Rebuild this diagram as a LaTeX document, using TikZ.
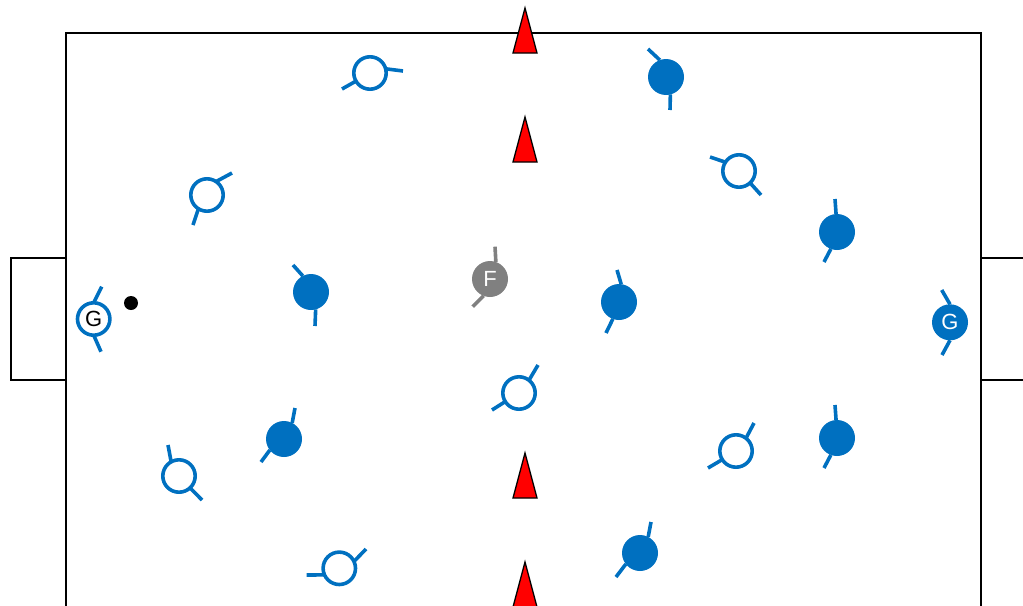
\documentclass[tikz,border=0pt]{standalone}
\usepackage{fontspec}
\setmainfont{Liberation Sans}
\definecolor{teamblue}{HTML}{0070C0}
\definecolor{coachgray}{HTML}{808080}
\tikzset{
    pitchline/.style={black, line width=2.5*0.02cm},
    cone/.style={draw=black, fill=red, line width=1.3*0.02cm},
    arm/.style={teamblue, line width=3.6*0.02cm},
    emptyplayer/.style={circle, draw=teamblue, fill=white, line width=3.6*0.02cm, minimum size=32.4*0.02cm, inner sep=0pt, outer sep=0pt},
    fullplayer/.style={circle, fill=teamblue, minimum size=36*0.02cm, inner sep=0pt, outer sep=0pt},
    letter/.style={font=\fontsize{12.5pt}{12.5pt}\selectfont}
}
\begin{document}
\begin{tikzpicture}[x=0.02cm, y=0.02cm]

    \clip (0,0) rectangle (1023,-605);

    % Pitch and both goals
    \draw[pitchline] (66,-33) rectangle (981,-640);
    \draw[pitchline] (66,-258) -- (11,-258) -- (11,-380) -- (66,-380);
    \draw[pitchline] (981,-258) -- (1040,-258);
    \draw[pitchline] (981,-380) -- (1040,-380);

    % Cones on the middle line
    \draw[cone] (513,-53) -- (525,-8) -- (537,-53) -- cycle;
    \draw[cone] (513,-162) -- (525,-117) -- (537,-162) -- cycle;
    \draw[cone] (513,-498) -- (525,-453) -- (537,-498) -- cycle;
    \draw[cone] (513,-607) -- (525,-562) -- (537,-607) -- cycle;

    % Ball
    \fill (131,-303) circle (7);

    % Goalkeepers
    \node[emptyplayer, letter, text=black] (keeperA) at (93.7,-319) {G};
    \draw[arm] (keeperA.90) -- (101.7,-286.7);
    \draw[arm] (keeperA.270) -- (101,-351.7);
    \node[fullplayer, letter, text=white] (keeperB) at (950,-322.3) {G};
    \draw[arm] (keeperB.90) -- (941.7,-290);
    \draw[arm] (keeperB.270) -- (942,-355);

    % Neutral player
    \node[fullplayer, letter, fill=coachgray, text=white] (neutral) at (490,-279) {F};
    \draw[arm, coachgray] (neutral.71) -- (495,-246.7);
    \draw[arm, coachgray] (neutral.249) -- (472.7,-306.7);

    % Empty players
    \node[emptyplayer] (emptyA) at (370,-73) {};
    \draw[arm] (emptyA.210) -- (342,-89);
    \draw[arm] (emptyA.15) -- (403,-71);
    \node[emptyplayer] (emptyB) at (739,-171) {};
    \draw[arm] (emptyB.147) -- (710,-157);
    \draw[arm] (emptyB.313) -- (761,-195);
    \node[emptyplayer] (emptyC) at (207,-195) {};
    \draw[arm] (emptyC.56) -- (232,-173);
    \draw[arm] (emptyC.238) -- (193,-225);
    \node[emptyplayer] (emptyD) at (519,-393) {};
    \draw[arm] (emptyD.52) -- (538,-365);
    \draw[arm] (emptyD.212) -- (492,-410);
    \node[emptyplayer] (emptyE) at (736,-451) {};
    \draw[arm] (emptyE.52) -- (754,-423);
    \draw[arm] (emptyE.212) -- (708,-468);
    \node[emptyplayer] (emptyF) at (179,-476) {};
    \draw[arm] (emptyF.119) -- (168,-445);
    \draw[arm] (emptyF.313) -- (202,-500);
    \node[emptyplayer] (emptyG) at (339.3,-568.3) {};
    \draw[arm] (emptyG.25) -- (366,-549);
    \draw[arm] (emptyG.204) -- (306.7,-575);

    % Full players
    \node[fullplayer] (fullA) at (666,-77) {};
    \draw[arm] (fullA.110) -- (648,-49);
    \draw[arm] (fullA.284) -- (670,-110);
    \node[fullplayer] (fullB) at (837,-232) {};
    \draw[arm] (fullB.93) -- (835,-199);
    \draw[arm] (fullB.250) -- (824,-262);
    \node[fullplayer] (fullC) at (311,-292) {};
    \draw[arm] (fullC.117) -- (293,-265);
    \draw[arm] (fullC.285) -- (315,-326);
    \node[fullplayer] (fullD) at (619,-302) {};
    \draw[arm] (fullD.83) -- (617,-270);
    \draw[arm] (fullD.250) -- (606,-333);
    \node[fullplayer] (fullE) at (284,-439) {};
    \draw[arm] (fullE.63) -- (295,-408);
    \draw[arm] (fullE.218) -- (261,-462);
    \node[fullplayer] (fullF) at (837,-438) {};
    \draw[arm] (fullF.93) -- (835,-405);
    \draw[arm] (fullF.250) -- (824,-468);
    \node[fullplayer] (fullG) at (640,-553) {};
    \draw[arm] (fullG.63) -- (651,-522);
    \draw[arm] (fullG.218) -- (616,-577);

\end{tikzpicture}
\end{document}
